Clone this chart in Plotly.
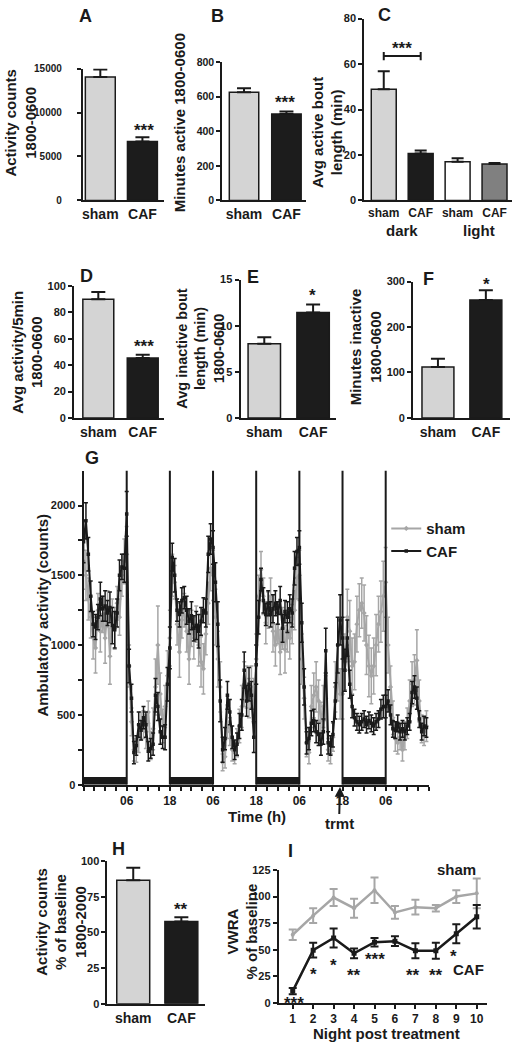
import plotly.graph_objects as go

W, H = 513, 1048
INK = "#1a1a1a"
FONT = "Liberation Sans, Arial, Helvetica, sans-serif"
SHAM_FILL = "#d4d4d4"
CAF_FILL = "#1c1c1c"
SHAM_LINE = "#a6a6a6"

# ---------------- data ----------------
cats2 = ["sham", "CAF"]
a_vals = [14050, 6700]
a_err = [850, 480]
b_vals = [625, 499]
b_err = [23, 15]
c_cats = ["sham", "CAF", "sham", "CAF"]
c_vals = [48.9, 20.7, 17.0, 16.0]
c_err = [7.9, 1.3, 1.6, 0.5]
d_vals = [90, 45.5]
d_err = [5.5, 2.5]
e_vals = [8.04, 11.43]
e_err = [0.71, 0.87]
f_vals = [112, 259.6]
f_err = [18, 21]
h_vals = [86.6, 57.7]
h_err = [8.8, 3.0]

# Panel G: ambulatory activity every 40 min over 4 days (h0 = 18:00)
g_caf = [
    1740, 1890, 1650, 1350, 1150, 1130, 1200, 1330, 1260, 1280, 1230, 1270, 1140, 1110, 1230, 1500, 1560, 1550,
    1940, 850, 620, 230, 280, 430, 390, 480, 430, 240, 260, 290, 640, 560, 380, 340, 340, 720,
    980, 1630, 1500, 1250, 1220, 1320, 1340, 1250, 1170, 1210, 1120, 1140, 1100, 1170, 1250, 1230, 1650, 1760,
    1700, 1450, 1150, 600, 250, 330, 640, 520, 340, 250, 290, 420, 500, 820, 600, 720, 640, 340,
    860, 1200, 1470, 1320, 1220, 1300, 1220, 1260, 1300, 1230, 1320, 1120, 1240, 1200, 1260, 1230, 1550, 1670,
    1700, 1160, 700, 300, 330, 440, 460, 380, 360, 290, 380, 960, 300, 280, 360, 600, 1000, 1180,
    1050, 820, 1050, 720, 560, 480, 450, 430, 450, 470, 430, 460, 440, 420, 450, 470, 540, 560,
    560, 600, 500, 400, 390, 440, 380, 400, 380, 420, 450, 660, 700, 620, 470, 380, 420, 410,
]
g_caf_err = [
    150, 130, 120, 110, 90, 90, 90, 120, 90, 110, 90, 110, 130, 130, 100, 110, 90, 100,
    160, 120, 100, 80, 70, 90, 70, 80, 90, 70, 70, 80, 120, 100, 90, 80, 90, 120,
    150, 100, 120, 80, 90, 90, 80, 100, 90, 100, 90, 100, 120, 100, 90, 100, 130, 110,
    120, 140, 160, 150, 90, 80, 100, 90, 80, 70, 80, 90, 110, 130, 110, 120, 100, 110,
    140, 120, 80, 90, 80, 90, 90, 100, 90, 80, 100, 100, 80, 110, 100, 100, 120, 100,
    120, 140, 130, 80, 80, 90, 80, 80, 80, 80, 90, 160, 80, 70, 90, 130, 200, 180,
    150, 150, 130, 100, 80, 60, 60, 60, 60, 60, 60, 60, 60, 60, 60, 60, 70, 80,
    80, 80, 70, 60, 60, 60, 60, 60, 60, 60, 60, 80, 80, 80, 60, 60, 70, 70,
]
g_sham = [
    1600, 1500, 1330, 1200, 1050, 980, 1250, 1100, 1220, 1050, 1260, 920, 1230, 1120, 1300, 1200, 1500, 1600,
    1650, 850, 450, 250, 240, 330, 420, 430, 380, 520, 280, 400, 700, 1000, 650, 420, 560, 780,
    1050, 1500, 1450, 1150, 950, 1180, 1250, 1100, 900, 1120, 1050, 1150, 1000, 880, 830, 1080, 1300, 1550,
    1500, 1200, 900, 700, 160, 200, 450, 380, 250, 230, 300, 420, 560, 720, 700, 620, 700, 600,
    900, 1350, 1540, 1350, 1160, 1250, 1350, 1100, 1000, 1150, 950, 1120, 970, 1100, 1050, 1150, 1250, 1480,
    1500, 900, 620, 300, 230, 560, 640, 700, 600, 460, 560, 620, 250, 220, 340, 700, 800, 650,
    650, 880, 1200, 1100, 850, 880, 1150, 1250, 1300, 1230, 1000, 850, 780, 850, 1000, 1150, 1240, 1350,
    1450, 1000, 700, 480, 330, 300, 340, 250, 350, 440, 600, 720, 750, 890, 600, 400, 380, 420,
]
g_sham_err = [
    200, 180, 150, 150, 150, 180, 120, 150, 130, 180, 130, 200, 100, 150, 120, 130, 150, 160,
    200, 150, 100, 80, 80, 100, 100, 100, 120, 80, 100, 150, 200, 280, 150, 120, 150, 180,
    200, 150, 120, 150, 180, 130, 120, 150, 180, 130, 150, 130, 150, 180, 180, 150, 150, 160,
    180, 200, 200, 180, 60, 80, 120, 100, 80, 80, 100, 120, 150, 160, 150, 140, 150, 160,
    180, 150, 130, 130, 150, 130, 130, 150, 150, 140, 160, 150, 170, 150, 150, 140, 140, 150,
    180, 180, 150, 100, 80, 150, 160, 180, 150, 130, 150, 160, 80, 70, 100, 180, 200, 180,
    180, 200, 200, 220, 200, 200, 200, 190, 180, 200, 210, 220, 200, 200, 220, 200, 220, 250,
    250, 200, 150, 120, 90, 80, 90, 80, 100, 110, 150, 160, 180, 220, 150, 100, 100, 110,
]
g_step_min = 40
g_tick_hours = [12, 24, 36, 48, 60, 72, 84]
g_tick_labels = ["06", "18", "06", "18", "06", "18", "06"]
g_dark = [(0, 12), (24, 36), (48, 60), (72, 84)]
g_trmt_hour = 71.3

i_nights = [1, 2, 3, 4, 5, 6, 7, 8, 9, 10]
i_sham = [64, 82, 99, 89, 106, 85, 90, 89, 100, 103]
i_sham_err = [5, 7, 8, 9, 12, 6, 7, 3, 6, 14]
i_caf = [11, 49.5, 61, 46.5, 57, 58, 49, 49, 65, 81]
i_caf_err = [3, 7, 9, 4.5, 4, 4.5, 7, 7.5, 9, 11]
i_stars = ["***", "*", "*", "**", "***", None, "**", "**", "*", None]

# ---------------- helpers ----------------
fig = go.Figure()
layout_axes = {}
annotations = []
shapes = []


def bold(size, color=INK):
    return dict(family=FONT, size=size, color=color, weight="bold")


base_axis = dict(showline=True, linecolor=INK, linewidth=2, showgrid=False,
                 zeroline=False, fixedrange=True)


def names(n):
    s = "" if n == 1 else str(n)
    return "x" + s, "y" + s, "xaxis" + s, "yaxis" + s


def bar_panel(n, cats, vals, errs, colors, xdom, centers, bw, ydom, yrange, yticks,
              xfont=14, capw=7, standoff=0, yfont=11):
    xr, yr, xk, yk = names(n)
    step = (centers[-1] - centers[0]) / (len(centers) - 1)
    idx = list(range(len(cats)))
    fig.add_trace(go.Bar(
        x=idx, y=vals, width=bw / step,
        marker=dict(color=colors, line=dict(color=INK, width=1.5)),
        error_y=dict(type="data", symmetric=False, array=errs, arrayminus=[0] * len(errs),
                     color=INK, thickness=2, width=capw),
        xaxis=xr, yaxis=yr, showlegend=False, hoverinfo="skip"))
    layout_axes[xk] = dict(base_axis, domain=[xdom[0] / W, xdom[1] / W], anchor=yr,
                           range=[-(centers[0] - xdom[0]) / step, (xdom[1] - centers[0]) / step],
                           tickmode="array", tickvals=idx, ticktext=cats, ticks="",
                           tickfont=bold(xfont))
    layout_axes[yk] = dict(base_axis, domain=[1 - ydom[1] / H, 1 - ydom[0] / H], anchor=xr,
                           range=yrange, tickmode="array", tickvals=yticks,
                           ticktext=[str(v) for v in yticks],
                           ticks="outside", ticklen=4, tickwidth=2, tickcolor=INK,
                           ticklabelstandoff=standoff, tickfont=bold(yfont))


def note(x, y, text, size, angle=0):
    annotations.append(dict(x=x / W, y=1 - y / H, xref="paper", yref="paper", text=text,
                            showarrow=False, font=bold(size), textangle=angle,
                            xanchor="center", yanchor="middle"))


def star(x, y, text, size=17):
    note(x, y + 0.25 * size, text, size)


# ---------------- bar panels ----------------
bar_panel(1, cats2, a_vals, a_err, [SHAM_FILL, CAF_FILL], (82, 163), [99.5, 141.7], 30,
          (63.3, 196.7), [0, 15000], [0, 5000, 10000, 15000], standoff=13, yfont=10)
bar_panel(2, cats2, b_vals, b_err, [SHAM_FILL, CAF_FILL], (221.7, 306), [243.5, 286], 29.5,
          (56.7, 196.7), [0, 800], [0, 200, 400, 600, 800], yfont=10.5)
bar_panel(3, c_cats, c_vals, c_err, [SHAM_FILL, CAF_FILL, "#ffffff", "#808080"], (364, 512),
          [383.5, 420.5, 457.5, 494.5], 25, (12.7, 196.7), [0, 80], [0, 20, 40, 60, 80],
          xfont=12, capw=6)
bar_panel(4, cats2, d_vals, d_err, [SHAM_FILL, CAF_FILL], (73.3, 163), [97.5, 142], 31,
          (283.3, 416.7), [0, 100], [0, 20, 40, 60, 80, 100])
bar_panel(5, cats2, e_vals, e_err, [SHAM_FILL, CAF_FILL], (240, 336), [263.8, 312.7], 32.5,
          (276.7, 416.7), [0, 15], [0, 5, 10, 15])
bar_panel(6, cats2, f_vals, f_err, [SHAM_FILL, CAF_FILL], (413, 510), [437.8, 485.8], 32,
          (278.7, 416.7), [0, 300], [0, 100, 200, 300])
bar_panel(8, cats2, h_vals, h_err, [SHAM_FILL, CAF_FILL], (106.7, 204), [132.5, 180.7], 33,
          (865, 1009.3), [0, 100], [0, 25, 50, 75, 100])

# bracket in C (data coords of panel C)
for seg in [((0, 63.5), (1, 63.5)), ((0, 61.7), (0, 65.3)), ((1, 61.7), (1, 65.3))]:
    shapes.append(dict(type="line", xref="x3", yref="y3", x0=seg[0][0], y0=seg[0][1],
                       x1=seg[1][0], y1=seg[1][1], line=dict(color=INK, width=2)))

# ---------------- panel G ----------------
g_hours = [i * g_step_min / 60 for i in range(len(g_caf))]
fig.add_trace(go.Scatter(
    x=g_hours, y=g_sham, mode="lines+markers", name="sham",
    line=dict(color=SHAM_LINE, width=2), marker=dict(symbol="diamond", size=4, color=SHAM_LINE),
    error_y=dict(type="data", array=g_sham_err, color=SHAM_LINE, thickness=1.5, width=2),
    xaxis="x7", yaxis="y7", hoverinfo="skip"))
fig.add_trace(go.Scatter(
    x=g_hours, y=g_caf, mode="lines+markers", name="CAF",
    line=dict(color=INK, width=2), marker=dict(symbol="square", size=3.5, color=INK),
    error_y=dict(type="data", array=g_caf_err, color=INK, thickness=1.5, width=2),
    xaxis="x7", yaxis="y7", hoverinfo="skip"))

g_all_ticks = list(range(0, 97, 3))
g_text = [g_tick_labels[g_tick_hours.index(t)] if t in g_tick_hours else "" for t in g_all_ticks]
layout_axes["xaxis7"] = dict(base_axis, domain=[82.7 / W, 428.7 / W], anchor="y7", range=[0, 96],
                             tickmode="array", tickvals=g_all_ticks, ticktext=g_text,
                             ticks="outside", ticklen=4, tickwidth=2, tickcolor=INK,
                             tickfont=bold(12))
g_yticks = list(range(0, 2001, 250))
layout_axes["yaxis7"] = dict(base_axis, domain=[1 - 787.7 / H, 1 - 470 / H], anchor="x7",
                             range=[0, 2250], tickmode="array", tickvals=g_yticks,
                             ticktext=[str(v) if v % 500 == 0 else "" for v in g_yticks],
                             ticks="outside", ticklen=4, tickwidth=2, tickcolor=INK,
                             tickfont=bold(11))
for t in g_tick_hours:
    shapes.append(dict(type="line", xref="x7", yref="y7", x0=t, x1=t, y0=0, y1=2250,
                       line=dict(color=INK, width=2)))
for a, b in g_dark:
    shapes.append(dict(type="rect", xref="x7", yref="y7", x0=a, x1=b, y0=0, y1=55,
                       fillcolor=INK, line=dict(width=0)))

# ---------------- panel I ----------------
fig.add_trace(go.Scatter(
    x=i_nights, y=i_sham, mode="lines+markers", showlegend=False,
    line=dict(color=SHAM_LINE, width=2.5), marker=dict(symbol="circle", size=4, color=SHAM_LINE),
    error_y=dict(type="data", array=i_sham_err, color=SHAM_LINE, thickness=2, width=4),
    xaxis="x9", yaxis="y9", hoverinfo="skip"))
fig.add_trace(go.Scatter(
    x=i_nights, y=i_caf, mode="lines+markers", showlegend=False,
    line=dict(color=INK, width=2.5), marker=dict(symbol="square", size=5, color=INK),
    error_y=dict(type="data", array=i_caf_err, color=INK, thickness=2, width=4),
    xaxis="x9", yaxis="y9", hoverinfo="skip"))
layout_axes["xaxis9"] = dict(base_axis, domain=[278.3 / W, 486.7 / W], anchor="y9",
                             range=[0.317, 10.49], tickmode="array", tickvals=i_nights,
                             ticks="outside", ticklen=4, tickwidth=2, tickcolor=INK,
                             tickfont=bold(12))
layout_axes["yaxis9"] = dict(base_axis, domain=[1 - 1008.3 / H, 1 - 874 / H], anchor="x9",
                             range=[0, 125], tickmode="array", tickvals=[0, 25, 50, 75, 100, 125],
                             ticks="outside", ticklen=4, tickwidth=2, tickcolor=INK,
                             tickfont=bold(11))

# ---------------- text ----------------
for letter, x, y in [("A", 85, 10), ("B", 217, 10), ("C", 384, 9), ("D", 86, 273),
                     ("E", 252, 274), ("F", 428, 276), ("G", 91, 457), ("H", 118, 853),
                     ("I", 290, 855)]:
    note(x, y, letter, 18)

note(20, 118, "Activity counts<br>1800-0600", 15, -90)
note(179, 118, "Minutes active 1800-0600", 15, -90)
note(327, 128, "Avg active bout<br>length (min)", 15, -90)
note(26.7, 350, "Avg activity/5min<br>1800-0600", 15, -90)
note(200, 347, "Avg inactive bout<br>length (min)<br>1800-0600", 14.5, -90)
note(365, 345, "Minutes inactive<br>1800-0600", 15, -90)
note(41.7, 616, "Ambulatory activity (counts)", 15, -90)
note(60.5, 926, "Activity counts<br>% of baseline<br>1800-2000", 15, -90)
note(241.7, 936, "VWRA<br>% of baseline", 15, -90)

note(402, 227, "dark", 15)
note(479, 227, "light", 15)
note(256.7, 819.5, "Time (h)", 15)
note(386.7, 1039, "Night post treatment", 15)
note(456.7, 874, "sham", 15)
note(468, 975, "CAF", 15)

star(143, 122, "***")
star(285, 93, "***")
star(402, 39, "***")
star(143.3, 340, "***")
star(311.7, 289, "*")
star(486, 277, "*")
star(180, 910, "**")
i_star_px = [(293.3, 1005), (312.7, 975), (333.3, 966.7), (353.3, 976.7), (375, 960), None,
             (413.3, 976.7), (435.7, 976.7), (453.5, 957.5), None]
for s, p in zip(i_stars, i_star_px):
    if s:
        star(p[0], p[1], s)

# trmt arrow
annotations.append(dict(x=(82.7 + g_trmt_hour * 3.604) / W, y=1 - 790 / H, xref="paper",
                        yref="paper", text="trmt", showarrow=True, ax=-1, ay=37,
                        arrowhead=2, arrowsize=1, arrowwidth=2, arrowcolor=INK,
                        font=bold(15)))

fig.update_layout(
    width=W, height=H, margin=dict(l=0, r=0, t=0, b=0),
    paper_bgcolor="white", plot_bgcolor="white",
    annotations=annotations, shapes=shapes,
    legend=dict(x=386 / W, y=1 - 512 / H, xanchor="left", yanchor="top", font=bold(15),
                bgcolor="rgba(0,0,0,0)", tracegroupgap=0, itemwidth=30),
    **layout_axes,
)

fig.write_html("out.html", config={"displayModeBar": False},
               post_script="document.body.style.margin='0';")
